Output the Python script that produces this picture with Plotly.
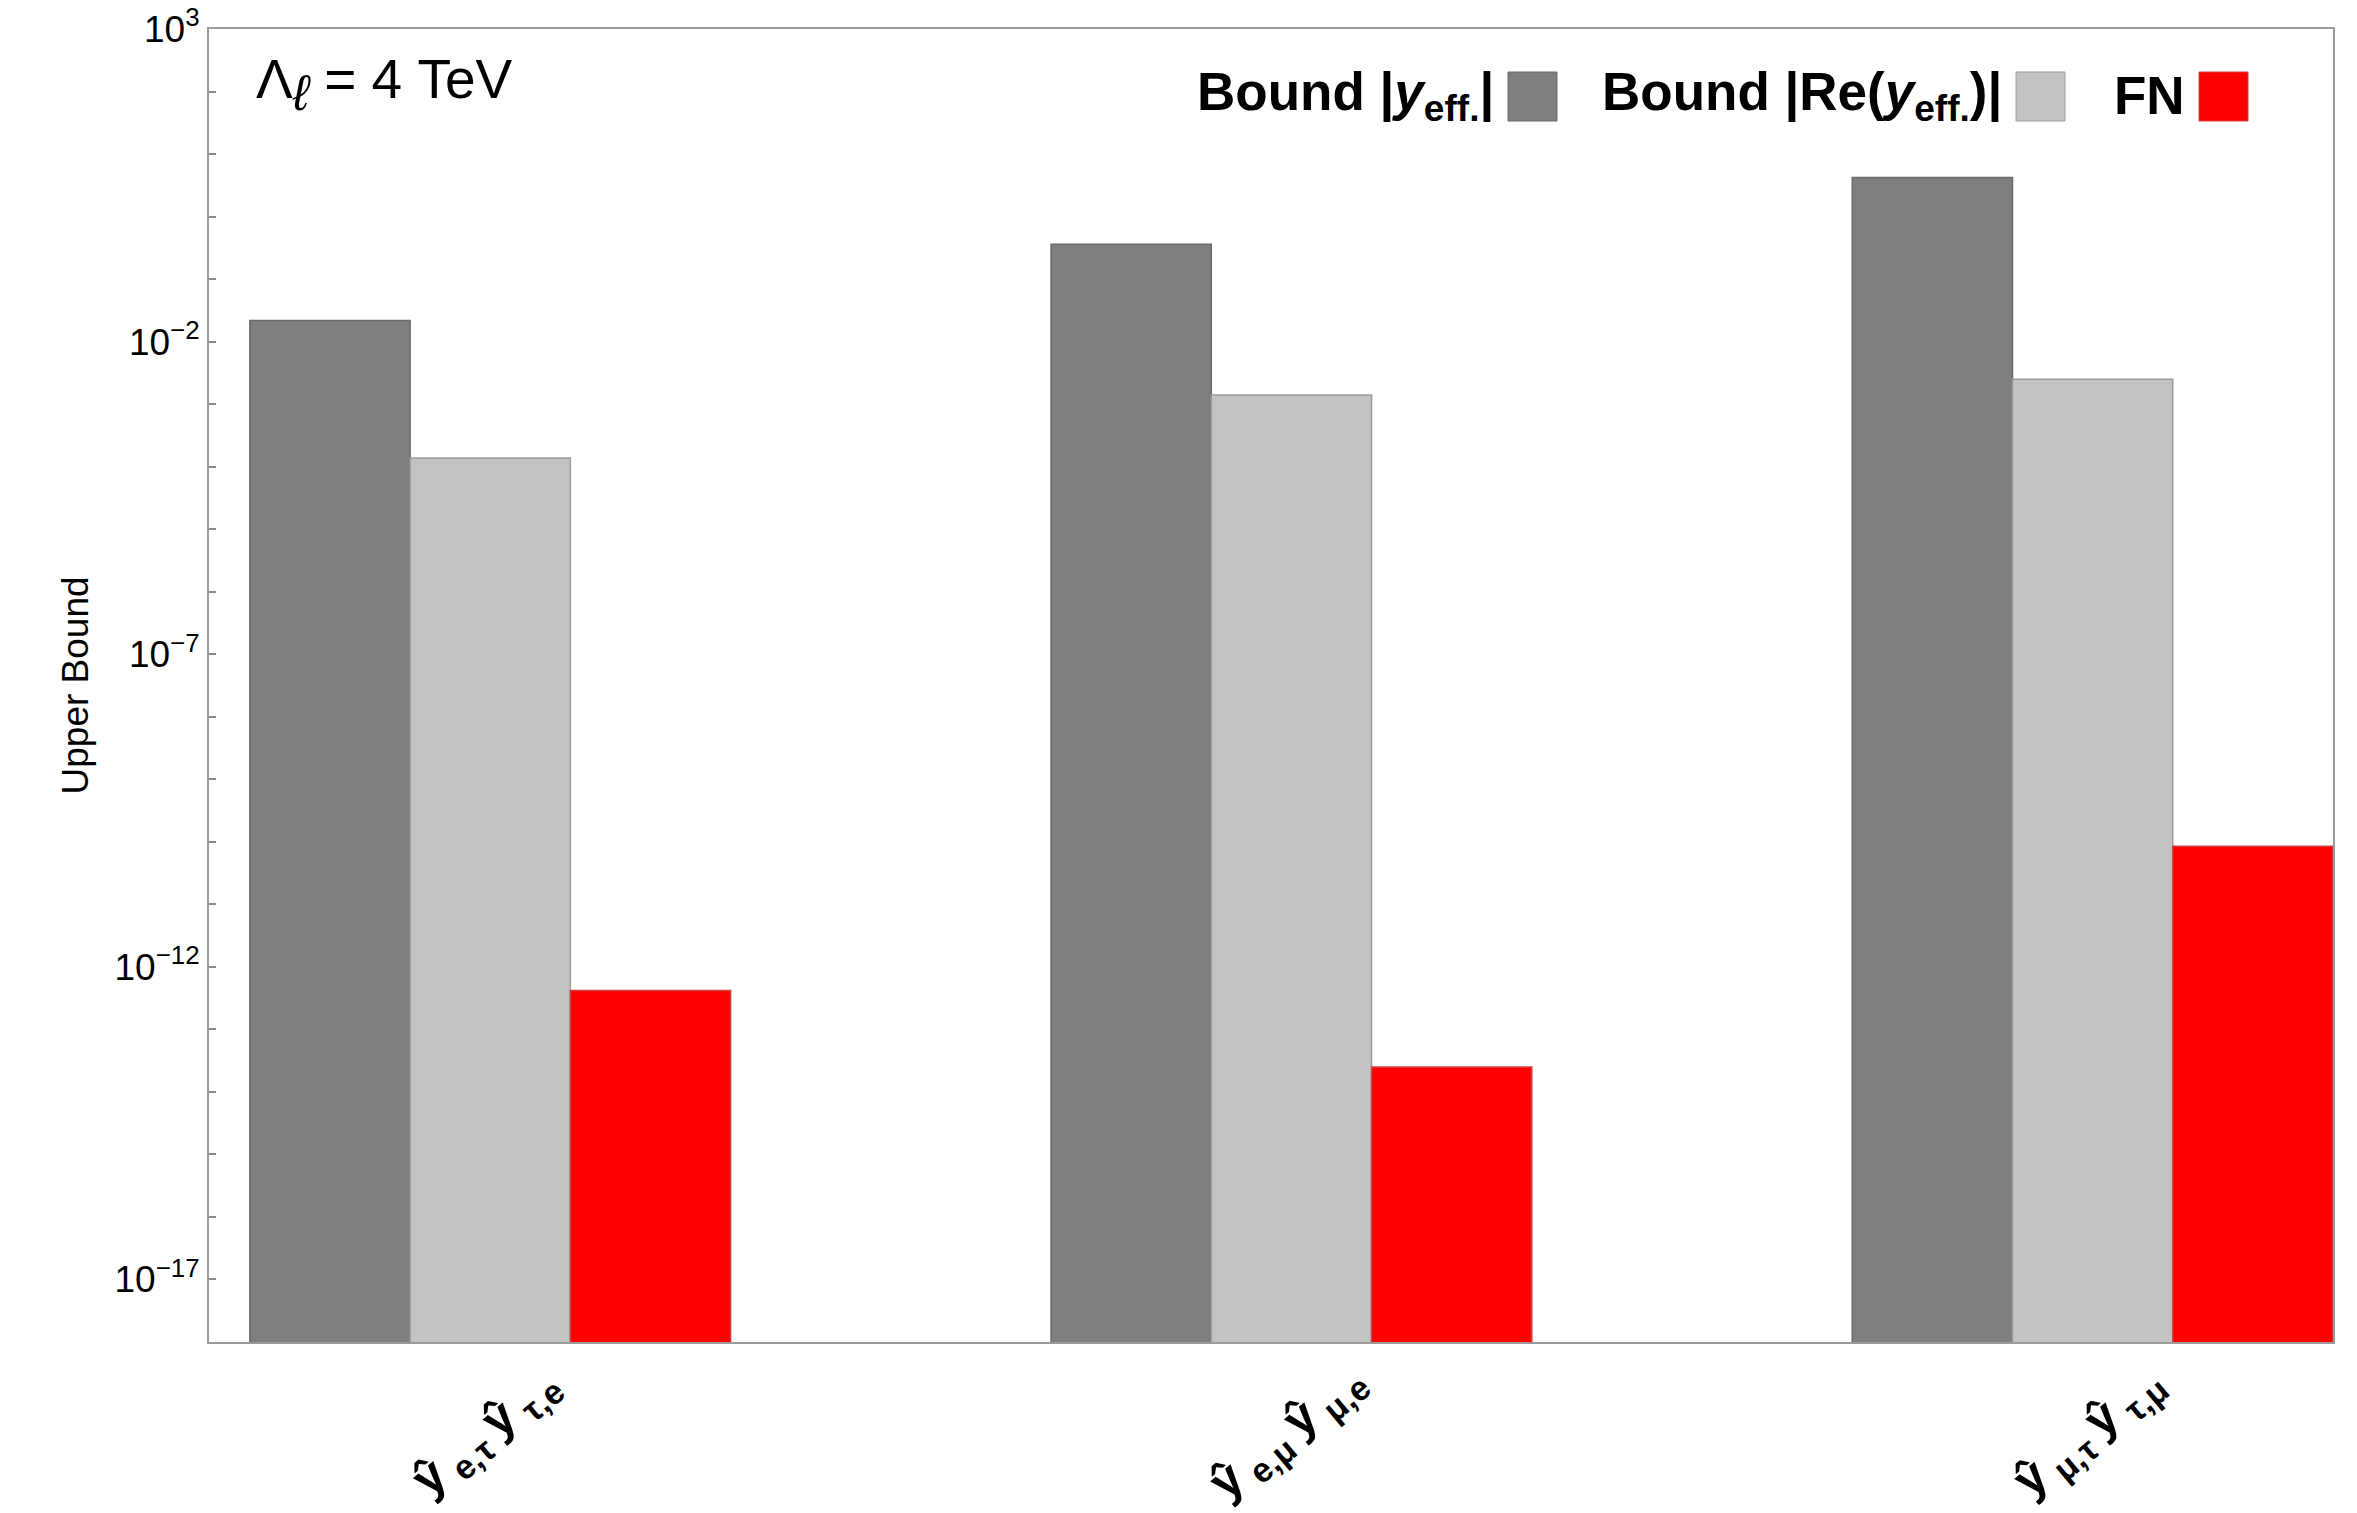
import plotly.graph_objects as go

# Coupling products on the x axis (rendered as rotated labels below the frame)
categories = [
    "<b>ŷ</b>\u2009<sub><b>e,τ</b></sub>\u2009<b>ŷ</b>\u2009<sub><b>τ,e</b></sub>",
    "<b>ŷ</b>\u2009<sub><b>e,μ</b></sub>\u2009<b>ŷ</b>\u2009<sub><b>μ,e</b></sub>",
    "<b>ŷ</b>\u2009<sub><b>μ,τ</b></sub>\u2009<b>ŷ</b>\u2009<sub><b>τ,μ</b></sub>",
]

# Upper bounds for each product
bound_abs = [0.0217, 0.36, 4.2]           # Bound |y_eff.|
bound_re = [1.38e-4, 1.4e-3, 2.5e-3]      # Bound |Re(y_eff.)|
fn_values = [4.2e-13, 2.5e-14, 8.5e-11]   # Froggatt-Nielsen estimate

series_names = ["Bound |y_eff.|", "Bound |Re(y_eff.)|", "FN"]
series_colors = ["#7f7f7f", "#c3c3c3", "#ff0000"]
series_edges = ["#6a6a6a", "#9c9c9c", "#d04040"]

# Labelled decades, plus an unlabelled tick at every decade in between
labelled_exponents = [3, -2, -7, -12, -17]
minor_exponents = [e for e in range(-18, 4) if e not in labelled_exponents]

W, H = 2357, 1513
L, R, T, B = 209, 24, 29, 171
PW, PH = W - L - R, H - T - B


def px_x(px):
    return (px - L) / PW


def px_y(py):
    return (H - B - py) / PH


fig = go.Figure()
for name, vals, col, edge in zip(series_names, [bound_abs, bound_re, fn_values],
                                 series_colors, series_edges):
    fig.add_trace(go.Bar(
        x=categories, y=vals, name=name,
        marker=dict(color=col, line=dict(color=edge, width=1.5)),
        showlegend=False,
    ))

tickvals = [10.0 ** e for e in labelled_exponents]
ticktext = ["10<sup>%s</sup>" % str(e).replace("-", "−") for e in labelled_exponents]
minor_vals = [10.0 ** e for e in minor_exponents]

FONT = "Liberation Sans, Arial, sans-serif"
axis_font = dict(family=FONT, color="black")

fig.update_layout(
    width=W, height=H,
    margin=dict(l=L, r=R, t=T, b=B, pad=0),
    paper_bgcolor="white", plot_bgcolor="white",
    barmode="group", bargap=0.4, bargroupgap=0.0,
    font=axis_font,
    xaxis=dict(
        type="category", range=[-0.351, 2.300],
        showticklabels=False, ticks="", showgrid=False, zeroline=False,
        showline=True, mirror=True, linecolor="#9a9a9a", linewidth=2,
    ),
    yaxis=dict(
        type="log", range=[-18, 3],
        tickmode="array", tickvals=tickvals, ticktext=ticktext,
        ticks="inside", ticklen=7, tickwidth=1.5, tickcolor="#8a8a8a",
        tickfont=dict(size=37, family=FONT, color="black"),
        minor=dict(tickmode="array", tickvals=minor_vals, ticks="inside",
                   ticklen=7, tickwidth=1.5, tickcolor="#8a8a8a", showgrid=False),
        showgrid=False, zeroline=False,
        showline=True, mirror=True, linecolor="#9a9a9a", linewidth=2,
        automargin=False,
    ),
)

annotations = []

# Rotated category labels
for cat in categories:
    annotations.append(dict(
        x=cat, xref="x", xshift=-4, y=0, yref="paper", yshift=-90,
        text=cat, showarrow=False, textangle=-40,
        xanchor="center", yanchor="middle",
        font=dict(size=49, family=FONT, color="black"),
    ))

# Y-axis title
annotations.append(dict(
    x=0, xref="paper", xshift=75 - L, y=0.5, yref="paper",
    text="Upper Bound", showarrow=False, textangle=-90,
    xanchor="center", yanchor="middle",
    font=dict(size=37, family=FONT, color="black"),
))

# Scale label
annotations.append(dict(
    x=px_x(254), xref="paper", y=px_y(84), yref="paper",
    text="Λ<sub><span style='font-size:50px'><i>ℓ</i></span></sub> = 4 TeV",
    showarrow=False, xanchor="left", yanchor="middle",
    font=dict(size=55, family=FONT, color="black"),
))

# Legend: bold text followed by a colour swatch
legend_text = [
    "<b>Bound |<i>y</i><sub>eff.</sub>|</b>",
    "<b>Bound |Re(<i>y</i><sub>eff.</sub>)|</b>",
    "<b>FN</b>",
]
swatch_left = [1508, 2016, 2199]
swatch_size = 49
swatch_top = 72
shapes = []
for txt, sx, col, edge in zip(legend_text, swatch_left, series_colors, series_edges):
    shapes.append(dict(
        type="rect", xref="paper", yref="paper",
        x0=px_x(sx), x1=px_x(sx + swatch_size),
        y0=px_y(swatch_top + swatch_size), y1=px_y(swatch_top),
        fillcolor=col, line=dict(color=edge, width=1),
    ))
    annotations.append(dict(
        x=px_x(sx - 12), xref="paper", y=px_y(96), yref="paper",
        text=txt, showarrow=False, xanchor="right", yanchor="middle",
        font=dict(size=53, family=FONT, color="black"),
    ))

fig.update_layout(annotations=annotations, shapes=shapes)

fig.write_html("out.html")
